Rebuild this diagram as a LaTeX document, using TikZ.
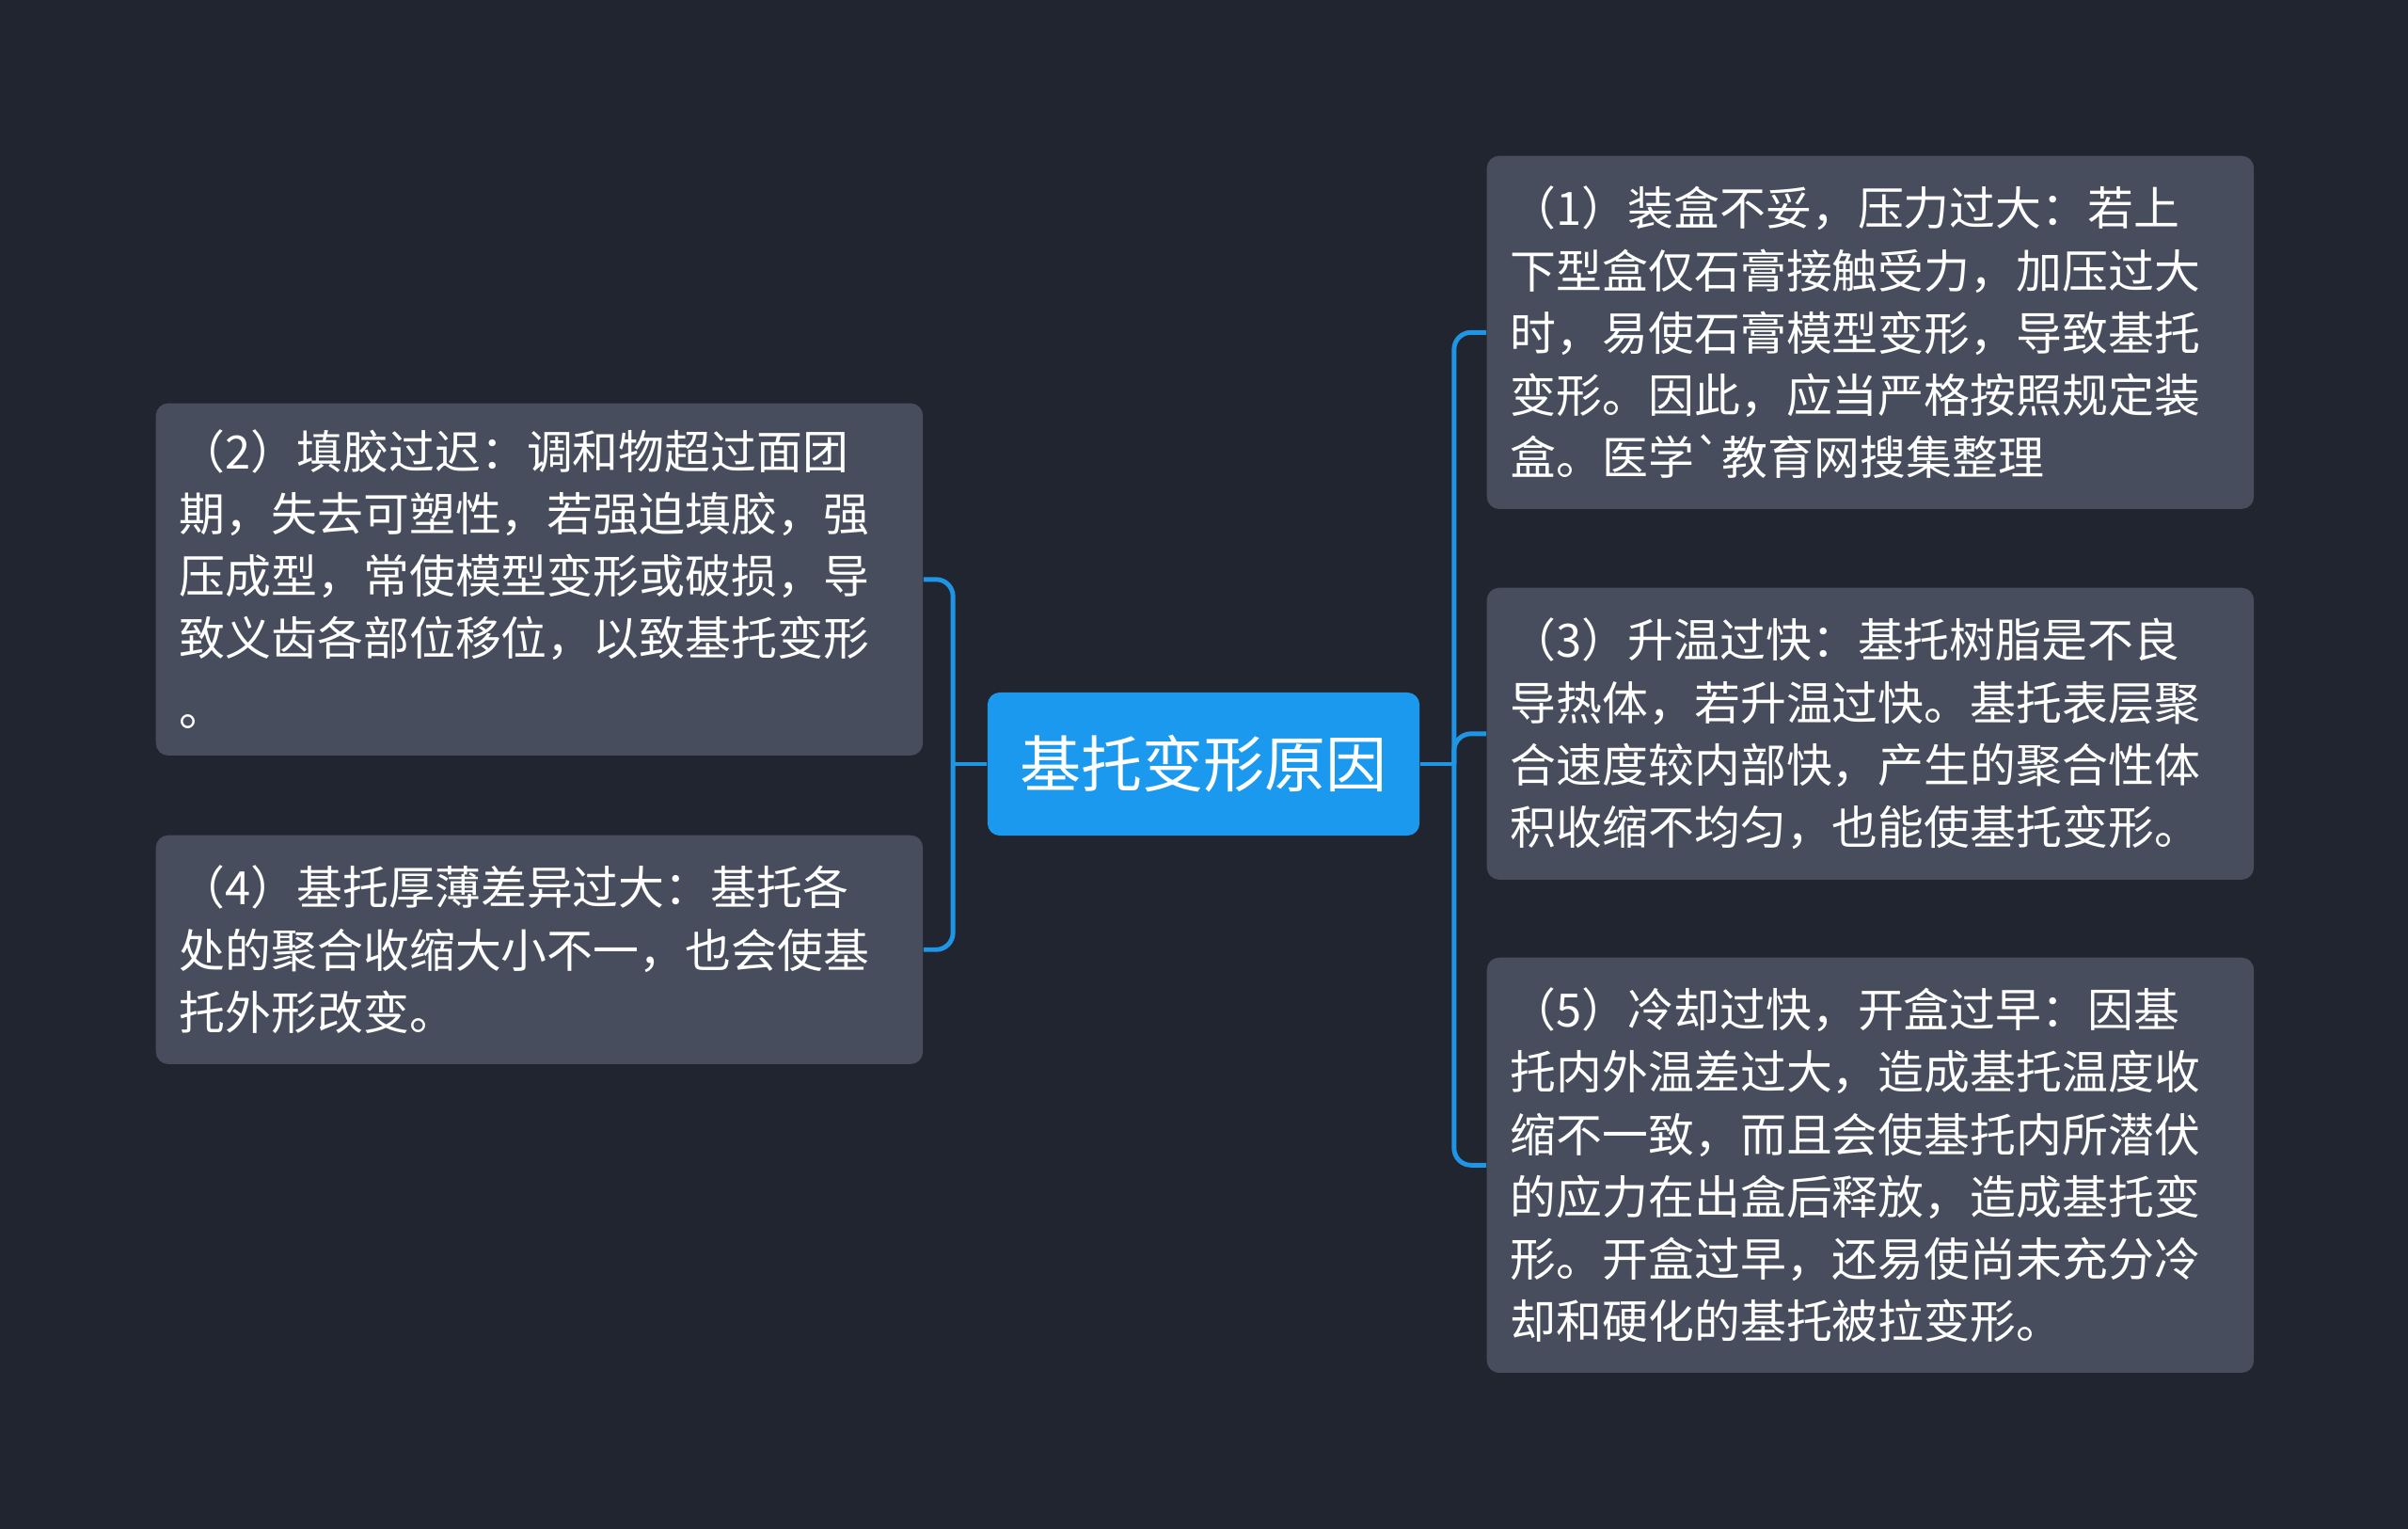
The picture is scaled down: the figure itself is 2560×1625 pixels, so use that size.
\documentclass[tikz,border=0pt]{standalone}
\usepackage{fontspec}
\newfontfamily\cjk{Noto Sans CJK SC}
\usetikzlibrary{positioning}
\definecolor{bgdark}{HTML}{21252F}
\definecolor{boxgray}{HTML}{474D5C}
\definecolor{rootblue}{HTML}{1B99EF}
\definecolor{linkblue}{HTML}{1F95E6}

\begin{document}
\begin{tikzpicture}[x=0.01cm,y=-0.01cm,
  topic/.style={fill=rootblue,text=white,rounded corners=1.3mm,inner sep=0pt,
    minimum width=4.59cm,minimum height=1.52cm,font=\cjk\fontsize{18.5pt}{22pt}\selectfont},
  cause/.style={fill=boxgray,text=white,rounded corners=1.3mm,anchor=north west,
    inner xsep=0.25cm,inner ysep=0pt,text width=7.65cm,align=left,
    font=\cjk\fontsize{13.9pt}{18.8pt}\selectfont},
  link/.style={draw=linkblue,line width=1.4pt,rounded corners=1.8mm}]
\fill[bgdark] (0,0) rectangle (2560,1625);
\useasboundingbox (0,0) rectangle (2560,1625);
% central topic
\node[topic] (root) at (1279.5,812) {基托变形原因};
% right side causes
\node[cause,minimum height=3.75cm] (c1) at (1580,165)
  {（1）装盒不妥，压力过大：若上\\下型盒仅石膏接触受力，加压过大\\时，易使石膏模型变形，导致基托\\变形。因此，应当严格按照规定装\\盒。医学`教育网搜集整理};
\node[cause,minimum height=3.10cm] (c3) at (1580,624)
  {（3）升温过快：基托树脂是不良\\导热体，若升温过快。基托表层聚\\合速度较内部快，产生的聚合性体\\积收缩不均匀，也能使基托变形。};
\node[cause,minimum height=4.41cm] (c5) at (1580,1017)
  {（5）冷却过快，开盒过早：因基\\托内外温差过大，造成基托温度收\\缩不一致，而且会使基托内所潜伏\\的应力在出盒后释放，造成基托变\\形。开盒过早，还易使尚未充分冷\\却和硬化的基托被拉变形。};
% left side causes
\node[cause,minimum height=3.74cm] (c2) at (165,428)
  {（2）填胶过迟：调和物超过面团\\期，失去可塑性，若强迫填胶，强\\压成型，常使模型变形或破损，导\\致义齿各部位移位，以致基托变形\\[0.09cm]。};
\node[cause,minimum height=2.43cm] (c4) at (165,887)
  {（4）基托厚薄差异过大：基托各\\处的聚合收缩大小不一，也会使基\\托外形改变。};
% branches
\path (root.east) ++(36,0) coordinate (jr);
\path (root.west) ++(-36,0) coordinate (jl);
\draw[link] (root.east) -- (jr);
\draw[link] (root.west) -- (jl);
\foreach \b in {c1,c3,c5} {\draw[link] (jr) |- (\b.west);}
\foreach \b in {c2,c4} {\draw[link] (jl) |- (\b.east);}
\end{tikzpicture}
\end{document}
